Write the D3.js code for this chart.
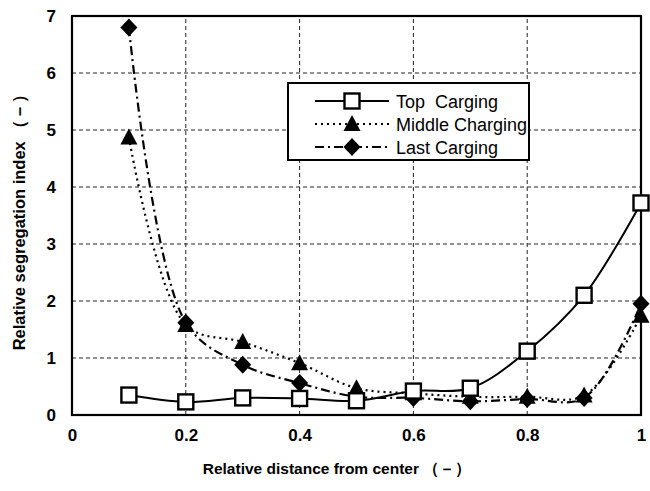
<!DOCTYPE html>
<html><head><meta charset="utf-8">
<script src="https://cdn.jsdelivr.net/npm/d3@7"></script>
<style>body{margin:0;background:#fff;}svg{display:block;}</style>
</head><body>
<script>
const xValues = [0.1,0.2,0.3,0.4,0.5,0.6,0.7,0.8,0.9,1.0];
const topCharging = [0.35,0.23,0.30,0.29,0.25,0.42,0.47,1.12,2.10,3.72];
const middleCharging = [4.87,1.58,1.28,0.91,0.47,0.38,0.32,0.32,0.34,1.74];
const lastCharging = [6.80,1.62,0.88,0.56,0.32,0.30,0.24,0.28,0.30,1.95];
const seriesNames = ["Top  Carging","Middle Charging","Last Carging"];
const xTicks = [0,0.2,0.4,0.6,0.8,1];
const yTicks = [0,1,2,3,4,5,6,7];

const W=650,H=491;
const svg=d3.select("body").append("svg").attr("width",W).attr("height",H);
const x=d3.scaleLinear().domain([0,1]).range([72,641]);
const y=d3.scaleLinear().domain([0,7]).range([415,16]);
const font="'Liberation Sans', Arial, sans-serif";

// gridlines
svg.append("g").selectAll("line.h").data(yTicks.filter(d=>d>0&&d<7)).join("line")
 .attr("x1",x(0)).attr("x2",x(1)).attr("y1",d=>y(d)).attr("y2",d=>y(d))
 .attr("stroke","#222").attr("stroke-width",1).attr("stroke-dasharray","4,3");
svg.append("g").selectAll("line.v").data(xTicks.filter(d=>d>0&&d<1)).join("line")
 .attr("y1",y(0)).attr("y2",y(7)).attr("x1",d=>x(d)).attr("x2",d=>x(d))
 .attr("stroke","#222").attr("stroke-width",1).attr("stroke-dasharray","4,3");

// axes via d3
const xAxis=svg.append("g").attr("transform",`translate(0,${y(0)})`)
 .call(d3.axisBottom(x).tickValues(xTicks).tickSize(0).tickPadding(14).tickFormat(d=>d===0||d===1?d3.format("d")(d):d3.format(".1f")(d)));
xAxis.select(".domain").remove();
xAxis.selectAll("text").attr("font-family",font).attr("font-weight","bold").attr("font-size","17px").attr("fill","#000");
const yAxis=svg.append("g").attr("transform",`translate(${x(0)},0)`)
 .call(d3.axisLeft(y).tickValues(yTicks).tickSize(0).tickPadding(16).tickFormat(d3.format("d")));
yAxis.select(".domain").remove();
yAxis.selectAll("text").attr("font-family",font).attr("font-weight","bold").attr("font-size","17px").attr("fill","#000");

// frame
svg.append("rect").attr("x",x(0)).attr("y",y(7)).attr("width",x(1)-x(0)).attr("height",y(0)-y(7))
 .attr("fill","none").attr("stroke","#000").attr("stroke-width",2.2);

// titles
svg.append("text").attr("x",337).attr("y",474).attr("text-anchor","middle")
 .attr("font-family",font).attr("font-weight","bold").attr("font-size","15.5px").text("Relative distance from center （－）");
svg.append("text").attr("transform","translate(25,218) rotate(-90)").attr("text-anchor","middle")
 .attr("font-family",font).attr("font-weight","bold").attr("font-size","16.5px").text("Relative segregation index （－）");

const line=d3.line().x(d=>x(d[0])).y(d=>y(d[1])).curve(d3.curveCatmullRom.alpha(0.5));
const styles=[
 {data:topCharging,dash:null,width:2,marker:"square"},
 {data:middleCharging,dash:"2,4",width:2.2,marker:"triangle"},
 {data:lastCharging,dash:"9,4,2,4",width:2.2,marker:"diamond"}
];
function drawMarker(g,type,cx,cy){
 if(type==="square") g.append("rect").attr("x",cx-7.5).attr("y",cy-7.5).attr("width",15).attr("height",15).attr("fill","#fff").attr("stroke","#000").attr("stroke-width",2.4);
 else if(type==="triangle") g.append("path").attr("d",`M${cx},${cy-9}L${cx+8.5},${cy+7}L${cx-8.5},${cy+7}Z`).attr("fill","#000");
 else g.append("path").attr("d",`M${cx},${cy-9}L${cx+8.5},${cy}L${cx},${cy+9}L${cx-8.5},${cy}Z`).attr("fill","#000");
}
[2,1,0].forEach(i=>{
 const s=styles[i];
 const pts=xValues.map((v,j)=>[v,s.data[j]]);
 svg.append("path").attr("d",line(pts)).attr("fill","none").attr("stroke","#000")
  .attr("stroke-width",s.width).attr("stroke-dasharray",s.dash);
});
[2,1,0].forEach(i=>{
 const s=styles[i];const g=svg.append("g");
 xValues.forEach((v,j)=>drawMarker(g,s.marker,x(v),y(s.data[j])));
});

// legend
const lg=svg.append("g");
lg.append("rect").attr("x",288).attr("y",83).attr("width",241).attr("height",77).attr("fill","#fff").attr("stroke","#000").attr("stroke-width",2);
seriesNames.forEach((n,i)=>{
 const yy=101+i*23;
 lg.append("line").attr("x1",315).attr("x2",389).attr("y1",yy).attr("y2",yy).attr("stroke","#000")
  .attr("stroke-width",styles[i].width).attr("stroke-dasharray",styles[i].dash);
 drawMarker(lg,styles[i].marker,352,yy);
 lg.append("text").attr("x",396).attr("y",yy+6.5).attr("font-family",font).attr("font-size","18px").attr("fill","#000").text(n).style("white-space","pre");
});
</script>
</body></html>
